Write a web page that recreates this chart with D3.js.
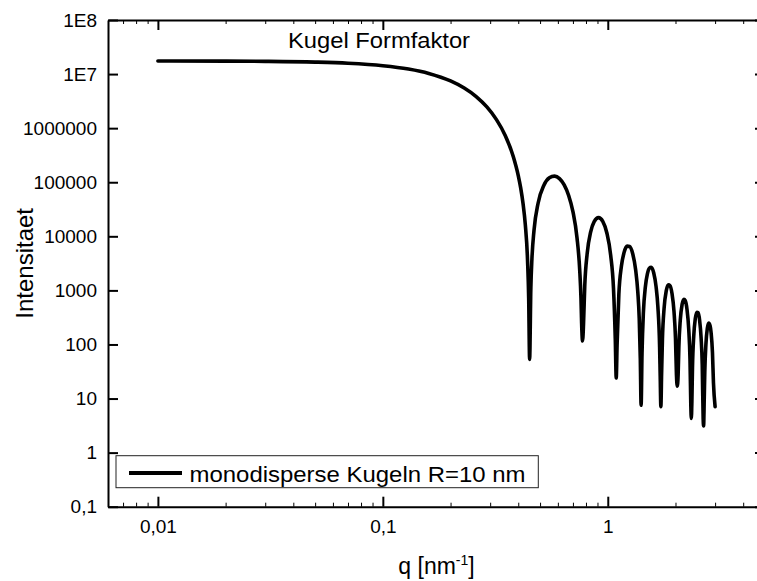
<!DOCTYPE html>
<html>
<head>
<meta charset="utf-8">
<script src="https://cdn.jsdelivr.net/npm/d3@7"></script>
<style>
    body { margin: 0; background: #fff; }
    #chart { width: 757px; height: 581px; overflow: hidden; }
    text { font-family: "Liberation Sans", Arial, sans-serif; fill: #000; }
</style>
</head>
<body>
<div id="chart"></div>
<script>

// values (q in nm^-1, intensity in a.u.)
const qValues = [
    0.01, 0.02, 0.03, 0.05, 0.07, 0.1, 0.13, 0.16, 0.2, 0.23,
    0.26, 0.29, 0.32, 0.35, 0.38, 0.40, 0.41, 0.42, 0.43, 0.44,
    0.445, 0.4493, 0.455, 0.46, 0.47, 0.49, 0.52, 0.55, 0.58, 0.61,
    0.64, 0.67, 0.70, 0.73, 0.75, 0.76, 0.765, 0.7725, 0.78, 0.79,
    0.81, 0.84, 0.87, 0.91, 0.95, 0.99, 1.03, 1.06, 1.08, 1.0904,
    1.10, 1.12, 1.15, 1.18, 1.22, 1.25, 1.29, 1.33, 1.36, 1.38,
    1.395, 1.4066, 1.42, 1.44, 1.47, 1.50, 1.53, 1.56, 1.60, 1.64,
    1.67, 1.70, 1.71, 1.7221, 1.735, 1.75, 1.78, 1.82, 1.86, 1.89,
    1.93, 1.97, 2.00, 2.02, 2.0371, 2.055, 2.07, 2.10, 2.14, 2.18,
    2.21, 2.25, 2.29, 2.32, 2.34, 2.3519, 2.365, 2.38, 2.41, 2.45,
    2.49, 2.52, 2.56, 2.60, 2.63, 2.655, 2.6666, 2.685, 2.70, 2.73,
    2.77, 2.81, 2.85, 2.88, 2.92, 2.95, 3.00
];
const intensity = [
    1.746e7, 1.736e7, 1.719e7, 1.665e7, 1.587e7, 1.429e7, 1.237e7, 1.028e7, 7.46e6, 5.52e6,
    3.84e6, 2.47e6, 1.44e6, 7.34e5, 3.00e5, 1.33e5, 7.85e4, 4.05e4, 1.62e4, 3480,
    720, 53, 1110, 3800, 12960, 40900, 87800, 120600, 129800, 116800,
    89200, 57000, 28600, 9320, 2440, 725, 252, 116, 233, 1200,
    4830, 12200, 18700, 22190, 18920, 11650, 4490, 1110, 124, 24,
    98, 842, 2820, 4930, 6590, 6490, 4810, 2410, 927, 299,
    55, 7.5, 68.6, 391, 1180, 2010, 2560, 2665, 2120, 1160,
    500, 90, 27, 7.1, 28.8, 127, 469, 988, 1270, 1225,
    874, 404, 129, 27.4, 17, 27.8, 88.9, 280, 550, 684,
    646, 446, 193, 53.5, 7.4, 4.3, 8.45, 37.5, 140, 301,
    395, 387, 281, 131, 42.1, 4.24, 3.1, 10.2, 31.6, 99.5,
    197, 248, 223, 164, 71.4, 19.6, 7.1
];

const xTicks = [0.01, 0.1, 1];
const xTickLabels = ["0,01", "0,1", "1"];
const yTicks = [0.1, 1, 10, 100, 1000, 10000, 100000, 1000000, 1e7, 1e8];
const yTickLabels = ["0,1", "1", "10", "100", "1000", "10000", "100000", "1000000", "1E7", "1E8"];
const xMinorTicks = [0.007, 0.008, 0.009, 0.02, 0.03, 0.04, 0.05, 0.06, 0.07, 0.08, 0.09,
    0.2, 0.3, 0.4, 0.5, 0.6, 0.7, 0.8, 0.9, 2, 3, 4];

const titleText = "Kugel Formfaktor";
const legendText = "monodisperse Kugeln R=10 nm";


class FormFactorVis {

    constructor(parentElement) {
        this.parentElement = parentElement;
        this.displayData = qValues.map((q, i) => ({q: q, I: intensity[i]}));
        this.initVis();
    }

    initVis() {
        let vis = this;

        vis.width = 757;
        vis.height = 581;
        // plot frame, right edge sits just outside the window like in the original
        vis.frame = {left: 108, right: 765, top: 20, bottom: 506.7};

        vis.svg = d3.select('#' + vis.parentElement).append('svg')
            .attr('width', vis.width)
            .attr('height', vis.height);

        vis.x = d3.scaleLog().domain([0.006, 5]).range([vis.frame.left, vis.frame.right]);
        vis.y = d3.scaleLog().domain([0.1, 1e8]).range([vis.frame.bottom, vis.frame.top]);

        vis.drawAxes();
        vis.updateVis();
    }

    drawAxes() {
        let vis = this;

        // major ticks point inward
        let bottom = d3.axisBottom(vis.x).tickValues(xTicks)
            .tickFormat((d, i) => xTickLabels[i])
            .tickSizeInner(-10).tickSizeOuter(0).tickPadding(13);
        let top = d3.axisTop(vis.x).tickValues(xTicks).tickFormat("")
            .tickSizeInner(-10).tickSizeOuter(0);
        let left = d3.axisLeft(vis.y).tickValues(yTicks)
            .tickFormat((d, i) => yTickLabels[i])
            .tickSizeInner(-10).tickSizeOuter(0).tickPadding(11);
        let right = d3.axisRight(vis.y).tickValues(yTicks).tickFormat("")
            .tickSizeInner(-10).tickSizeOuter(0);

        vis.svg.append('g').attr('class', 'axis')
            .attr('transform', 'translate(0,' + vis.frame.bottom + ')').call(bottom);
        vis.svg.append('g').attr('class', 'axis')
            .attr('transform', 'translate(0,' + vis.frame.top + ')').call(top);
        vis.svg.append('g').attr('class', 'axis')
            .attr('transform', 'translate(' + vis.frame.left + ',0)').call(left);
        vis.svg.append('g').attr('class', 'axis')
            .attr('transform', 'translate(' + vis.frame.right + ',0)').call(right);

        // minor ticks on q axes
        let minorBottom = d3.axisBottom(vis.x).tickValues(xMinorTicks).tickFormat("").tickSize(-4);
        let minorTop = d3.axisTop(vis.x).tickValues(xMinorTicks).tickFormat("").tickSize(-4);
        vis.svg.append('g').attr('class', 'minor')
            .attr('transform', 'translate(0,' + vis.frame.bottom + ')').call(minorBottom);
        vis.svg.append('g').attr('class', 'minor')
            .attr('transform', 'translate(0,' + vis.frame.top + ')').call(minorTop);

        vis.svg.selectAll('.minor .domain').remove();
        vis.svg.selectAll('.minor line').attr('stroke', '#000').attr('stroke-width', 1);

        vis.svg.selectAll('.axis .domain').attr('stroke', '#000').attr('stroke-width', 2);
        vis.svg.selectAll('.axis line').attr('stroke', '#000').attr('stroke-width', 2);
        vis.svg.selectAll('.axis text')
            .attr('font-size', 19)
            .attr('font-family', '"Liberation Sans", Arial, sans-serif')
            .attr('fill', '#000');

        // axis titles
        let xTitle = vis.svg.append('text')
            .attr('x', (vis.frame.left + vis.frame.right) / 2)
            .attr('y', 574)
            .attr('text-anchor', 'middle')
            .attr('font-size', 23);
        xTitle.append('tspan').text('q [nm');
        xTitle.append('tspan').attr('font-size', 14).attr('dy', -9).text('-1');
        xTitle.append('tspan').attr('dy', 9).text(']');

        vis.svg.append('text')
            .attr('transform', 'translate(33,' + ((vis.frame.top + vis.frame.bottom) / 2) + ') rotate(-90)')
            .attr('text-anchor', 'middle')
            .attr('font-size', 24)
            .text('Intensitaet');

        // title inside the plot
        vis.svg.append('text')
            .attr('x', 288)
            .attr('y', 47.5)
            .attr('font-size', 22)
            .attr('textLength', 182)
            .attr('lengthAdjust', 'spacingAndGlyphs')
            .text(titleText);
    }

    updateVis() {
        let vis = this;

        vis.line = d3.line()
            .x(d => vis.x(d.q))
            .y(d => vis.y(d.I))
            .curve(d3.curveMonotoneX);

        vis.svg.append('path')
            .datum(vis.displayData)
            .attr('d', vis.line)
            .attr('fill', 'none')
            .attr('stroke', '#000')
            .attr('stroke-width', 3.6)
            .attr('stroke-linejoin', 'round')
            .attr('stroke-linecap', 'round');

        // legend
        let legend = vis.svg.append('g');
        legend.append('rect')
            .attr('x', 116).attr('y', 455.7)
            .attr('width', 422.3).attr('height', 32)
            .attr('fill', '#fff')
            .attr('stroke', '#222')
            .attr('stroke-width', 1);
        legend.append('line')
            .attr('x1', 129).attr('x2', 182)
            .attr('y1', 473).attr('y2', 473)
            .attr('stroke', '#000')
            .attr('stroke-width', 4);
        legend.append('text')
            .attr('x', 189.5).attr('y', 481.5)
            .attr('font-size', 22)
            .attr('textLength', 336)
            .attr('lengthAdjust', 'spacingAndGlyphs')
            .text(legendText);
    }
}

new FormFactorVis('chart');

</script>
</body>
</html>
